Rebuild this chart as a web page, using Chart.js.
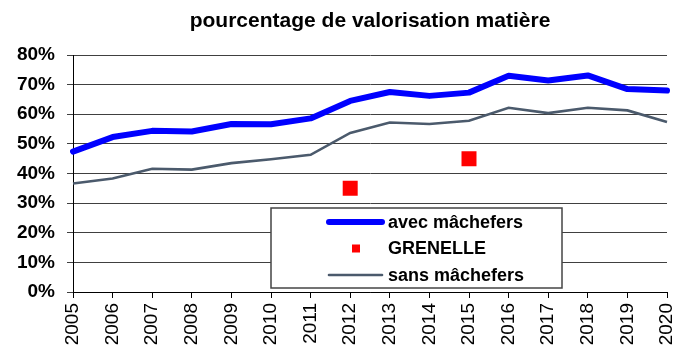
<!DOCTYPE html>
<html lang="fr">
<head>
<meta charset="utf-8">
<title>pourcentage de valorisation matière</title>
<script src="https://cdn.jsdelivr.net/npm/chart.js@4.4.1/dist/chart.umd.min.js"></script>
<style>
    html, body { margin: 0; padding: 0; background: #fff; }
    #wrap { width: 685px; height: 354px; position: relative; }
</style>
</head>
<body>
<div id="wrap"><canvas id="valorisationChart" width="685" height="354"></canvas></div>
<script>
/* Valorisation matière 2005-2020 */

const annees = ['2005', '2006', '2007', '2008', '2009', '2010', '2011', '2012',
                '2013', '2014', '2015', '2016', '2017', '2018', '2019', '2020'];
const avecMachefers = [47.4, 52.3, 54.4, 54.2, 56.7, 56.6, 58.6, 64.5,
                       67.5, 66.2, 67.3, 73.0, 71.4, 73.1, 68.5, 68.0];
const sansMachefers = [36.6, 38.3, 41.6, 41.3, 43.5, 44.8, 46.3, 53.7,
                       57.2, 56.7, 57.8, 62.2, 60.4, 62.2, 61.3, 57.4];
const grenelle = [null, null, null, null, null, null, null, 35,
                  null, null, 45, null, null, null, null, null];
const yTicks = [0, 10, 20, 30, 40, 50, 60, 70, 80];

const titre = 'pourcentage de valorisation matière';
const police = "'Liberation Sans', Arial, sans-serif";

// Title centred over the plot area
const titrePlugin = {
    id: 'titrePlugin',
    afterDraw(chart) {
        const ctx = chart.ctx;
        const area = chart.chartArea;
        ctx.save();
        ctx.font = 'bold 21px ' + police;
        ctx.fillStyle = '#000';
        ctx.textAlign = 'center';
        ctx.textBaseline = 'alphabetic';
        ctx.fillText(titre, (area.left + area.right) / 2, 27);
        ctx.restore();
    }
};

// Boxed legend sitting inside the plot
const legendePlugin = {
    id: 'legendePlugin',
    afterDraw(chart) {
        const ctx = chart.ctx;
        const box = { x: 271, y: 208, w: 291, h: 80 };
        ctx.save();
        ctx.fillStyle = '#fff';
        ctx.fillRect(box.x, box.y, box.w, box.h);
        ctx.strokeStyle = '#444';
        ctx.lineWidth = 1.5;
        ctx.strokeRect(box.x, box.y, box.w, box.h);

        ctx.font = 'bold 18px ' + police;
        ctx.textBaseline = 'middle';
        ctx.textAlign = 'left';
        chart.data.datasets.forEach(function(ds, i) {
            const cy = box.y + 14 + i * 26.5;
            if (ds.showLine === false) {
                ctx.fillStyle = ds.backgroundColor;
                ctx.fillRect(352, cy - 4, 8, 8);
            } else {
                ctx.strokeStyle = ds.borderColor;
                ctx.lineWidth = ds.borderWidth;
                ctx.lineCap = 'round';
                ctx.beginPath();
                ctx.moveTo(329, cy);
                ctx.lineTo(382, cy);
                ctx.stroke();
            }
            ctx.fillStyle = '#000';
            ctx.fillText(ds.label, 388, cy + 1);
        });
        ctx.restore();
    }
};

const ctx = document.getElementById('valorisationChart');
new Chart(ctx, {
    type: 'line',
    data: {
        labels: annees,
        datasets: [{
            label: 'avec mâchefers',
            data: avecMachefers,
            borderColor: '#0000ff',
            backgroundColor: '#0000ff',
            borderWidth: 6,
            borderCapStyle: 'round',
            borderJoinStyle: 'round',
            pointRadius: 0,
            tension: 0
        }, {
            label: 'GRENELLE',
            data: grenelle,
            showLine: false,
            pointStyle: 'rect',
            pointRadius: 10.6,
            pointHoverRadius: 10.6,
            borderWidth: 0,
            backgroundColor: '#ff0000',
            borderColor: '#ff0000'
        }, {
            label: 'sans mâchefers',
            data: sansMachefers,
            borderColor: '#4b5a6c',
            backgroundColor: '#4b5a6c',
            borderWidth: 2.6,
            pointRadius: 0,
            tension: 0
        }]
    },
    options: {
        responsive: false,
        animation: false,
        events: [],
        layout: { padding: { top: 55, right: 18, left: 0, bottom: 0 } },
        plugins: {
            legend: { display: false },
            title: { display: false },
            tooltip: { enabled: false }
        },
        scales: {
            x: {
                offset: false,
                grid: {
                    drawOnChartArea: false,
                    drawTicks: true,
                    tickLength: 6,
                    color: '#000'
                },
                border: { display: true, color: '#000', width: 1 },
                ticks: {
                    autoSkip: false,
                    minRotation: 90,
                    maxRotation: 90,
                    padding: 5,
                    color: '#000',
                    font: { family: police, size: 19 }
                },
                afterFit: function(scale) {
                    scale.height = 62;
                    // the rotated end labels fit inside the layout padding
                    scale.paddingLeft = 0;
                    scale.paddingRight = 0;
                }
            },
            y: {
                min: 0,
                max: 80,
                afterBuildTicks: function(scale) {
                    scale.ticks = yTicks.map(v => ({ value: v }));
                },
                grid: {
                    color: '#404040',
                    lineWidth: 1,
                    drawTicks: true,
                    tickLength: 6
                },
                border: { display: true, color: '#000', width: 1 },
                ticks: {
                    padding: 12,
                    color: '#000',
                    font: { family: police, size: 19, weight: 'bold' },
                    callback: function(v) { return v + '%'; }
                },
                afterFit: function(scale) { scale.width = 73; }
            }
        }
    },
    plugins: [titrePlugin, legendePlugin]
});
</script>
</body>
</html>
